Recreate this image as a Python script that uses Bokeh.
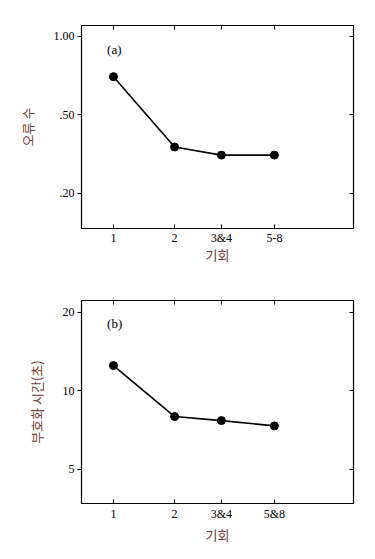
from bokeh.plotting import figure
from bokeh.models import LogAxis, FixedTicker, Label, Range1d, CustomJSTickFormatter
from bokeh.layouts import column
from bokeh.embed import file_html
from bokeh.resources import INLINE

# data
trials = [1, 2, 3.4, 6.2]
trial_labels_a = ["1", "2", "3&4", "5-8"]
trial_labels_b = ["1", "2", "3&4", "5&8"]
errors = [0.70, 0.376, 0.35, 0.35]
times = [12.5, 7.97, 7.69, 7.34]
yticks_a = [1.0, 0.5, 0.25]
ytick_labels_a = ["1.00", ".50", ".20"]
yticks_b = [20, 10, 5]
ytick_labels_b = ["20", "10", "5"]

SERIF = "Liberation Serif"
KR = "Noto Sans CJK KR"
LABEL_COLOR = "#6e3b2e"


def panel(yvals, yticks, ytick_labels, xlabels, ylabel, tag, yrange, tag_y,
          height, top, bottom, xtick_standoff, xlab_standoff):
    p = figure(width=367, height=height, x_axis_type="log", y_axis_type="log",
               x_range=Range1d(0.696, 15.2), y_range=Range1d(*yrange),
               output_backend="svg", toolbar_location=None,
               min_border_left=81, min_border_right=14,
               min_border_top=top, min_border_bottom=bottom)
    p.grid.visible = False
    p.outline_line_color = "black"
    p.outline_line_width = 1.2
    p.background_fill_color = "white"
    p.border_fill_color = "white"

    xa = p.xaxis[0]
    xa.ticker = FixedTicker(ticks=trials, minor_ticks=[])
    xa.major_label_overrides = {t: l for t, l in zip(trials, xlabels)}
    xa.major_tick_in = 4
    xa.major_tick_out = 0
    xa.major_tick_line_color = "black"
    xa.minor_tick_line_color = None
    xa.major_label_text_font = SERIF
    xa.major_label_text_font_size = "12px"
    xa.major_label_text_color = "black"
    xa.major_label_standoff = xtick_standoff
    xa.axis_label = "기회"
    xa.axis_label_text_font = KR
    xa.axis_label_text_font_size = "13px"
    xa.axis_label_text_font_style = "normal"
    xa.axis_label_text_color = LABEL_COLOR
    xa.axis_label_standoff = xlab_standoff
    xa.axis_line_color = None

    ya = p.yaxis[0]
    ya.ticker = FixedTicker(ticks=yticks, minor_ticks=[])
    ya.major_label_overrides = {t: l for t, l in zip(yticks, ytick_labels)}
    ya.major_tick_in = 0
    ya.major_tick_out = 4
    ya.major_tick_line_color = "black"
    ya.minor_tick_line_color = None
    ya.major_label_text_font = SERIF
    ya.major_label_text_font_size = "12px"
    ya.major_label_text_color = "black"
    ya.major_label_standoff = 3
    ya.axis_label = ylabel
    ya.axis_label_text_font = KR
    ya.axis_label_text_font_size = "13px"
    ya.axis_label_text_font_style = "normal"
    ya.axis_label_text_color = LABEL_COLOR
    ya.axis_label_standoff = 14
    ya.axis_line_color = None

    blank = CustomJSTickFormatter(code="return ''")
    ra = LogAxis(ticker=FixedTicker(ticks=yticks, minor_ticks=[]),
                 formatter=blank,
                 major_tick_in=4, major_tick_out=0, major_tick_line_color="black",
                 minor_tick_line_color=None, axis_line_color=None,
                 major_label_standoff=0)
    p.add_layout(ra, "right")
    ta = LogAxis(ticker=FixedTicker(ticks=trials, minor_ticks=[]),
                 formatter=blank,
                 major_tick_in=4, major_tick_out=0, major_tick_line_color="black",
                 minor_tick_line_color=None, axis_line_color=None,
                 major_label_standoff=0)
    p.add_layout(ta, "above")

    p.line(trials, yvals, line_color="black", line_width=1.6)
    p.scatter(trials, yvals, size=8, fill_color="black", line_color="black")

    p.add_layout(Label(x=0.93, y=tag_y, text=tag, text_font=SERIF,
                       text_font_size="13px", text_color="black",
                       text_baseline="middle"))
    return p


pa = panel(errors, yticks_a, ytick_labels_a, trial_labels_a, "오류 수", "(a)",
           (0.183, 1.10), 0.89, 278, 25, 50, 2, -3)
pb = panel(times, yticks_b, ytick_labels_b, trial_labels_b, "부호화 시간(초)", "(b)",
           (3.70, 22.2), 18.1, 278, 22, 53, 3, 1)

layout = column(pa, pb, spacing=0)
open("out.html", "w").write(file_html(layout, INLINE))
